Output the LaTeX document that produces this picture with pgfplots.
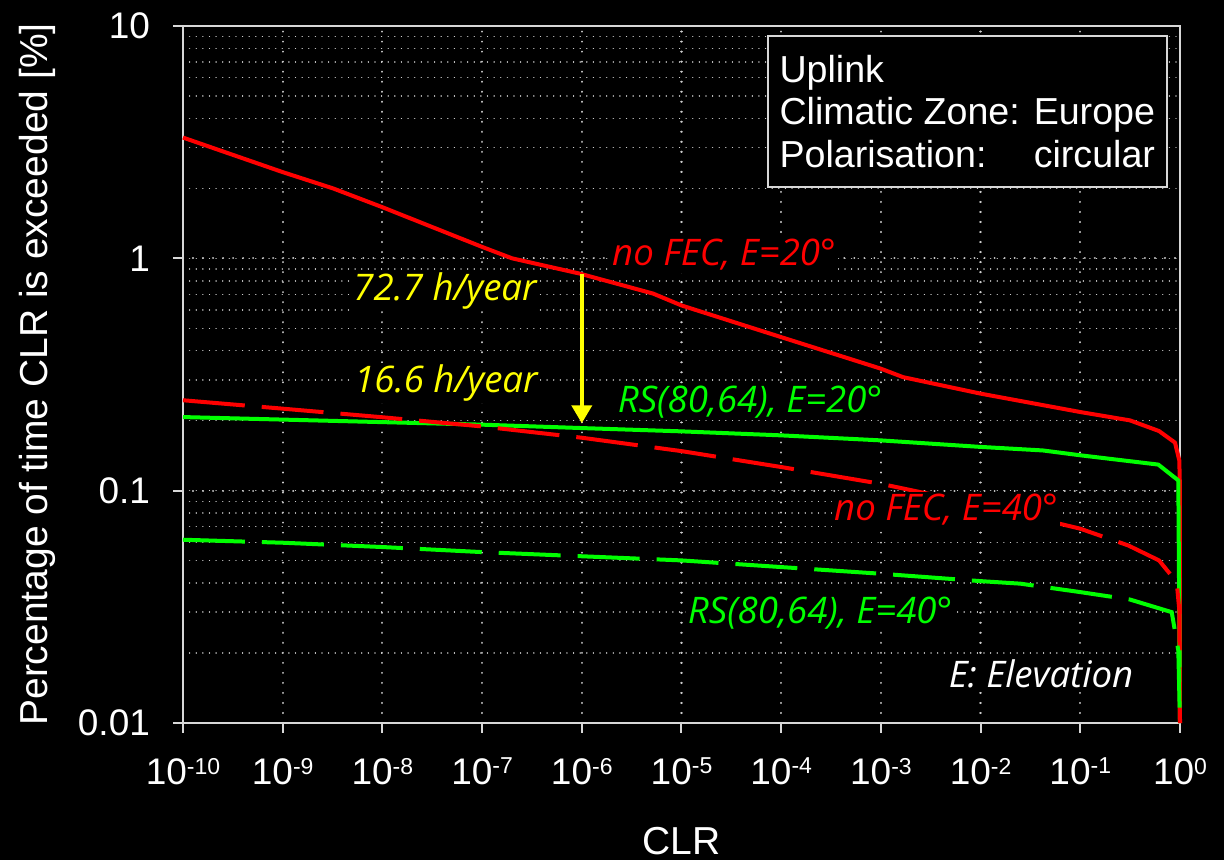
\documentclass[border=0pt]{standalone}
\usepackage{pgfplots}
\pgfplotsset{compat=1.18}
\usepackage{fontspec}
\setmainfont{Liberation Sans}
\newfontfamily\annfont{Open Sans}
\usetikzlibrary{backgrounds,arrows.meta}
\definecolor{myred}{RGB}{255,0,0}
\definecolor{mygreen}{RGB}{0,255,0}
\definecolor{myyellow}{RGB}{255,255,0}
\definecolor{gridgray}{RGB}{205,205,205}
\definecolor{axgray}{RGB}{215,215,215}
\newcommand\tp[1]{10\raisebox{0.28em}{\fontsize{11.5}{12}\selectfont #1}}
\newlength\boxw
\settowidth{\boxw}{\fontsize{18.8}{21.25}\selectfont Climatic Zone: Europe}
\begin{document}
\begin{tikzpicture}
\begin{axis}[
  xmode=log, ymode=log,
  scale only axis, width=498.5pt, height=348.5pt,
  xmin=1e-10, xmax=1, ymin=0.01, ymax=10,
  clip=false,
  axis line style={draw=axgray, line width=1pt},
  every tick/.style={draw=axgray, line width=1pt},
  tick align=outside, tick pos=left,
  major tick length=5pt, minor tick length=0pt,
  xminorticks=false,
  xmajorgrids=true, ymajorgrids=true, yminorgrids=true,
  major grid style={draw=gridgray, line width=1.1pt, line cap=round, dash pattern=on 0.01pt off 5pt},
  minor grid style={draw=gridgray, line width=0.7pt, line cap=round, dash pattern=on 0.01pt off 3.3pt},
  xtick={1e-10,1e-9,1e-8,1e-7,1e-6,1e-5,1e-4,1e-3,1e-2,1e-1,1},
  xticklabels={\tp{-10},\tp{-9},\tp{-8},\tp{-7},\tp{-6},\tp{-5},\tp{-4},\tp{-3},\tp{-2},\tp{-1},\tp{0}},
  ytick={0.01,0.1,1,10},
  yticklabels={0.01,0.1,1,10},
  tick label style={font=\fontsize{18.5}{20}\selectfont, text=white},
  xticklabel style={yshift=-9pt},
  yticklabel style={xshift=-8pt},
  xlabel={CLR},
  ylabel={Percentage of time CLR is exceeded [\%]},
  label style={font=\fontsize{19.5}{22}\selectfont, text=white},
  xlabel style={at={(axis description cs:0.5,0)}, anchor=center, yshift=-59pt},
  ylabel style={at={(axis description cs:-0.1464,0.5)}, anchor=center},
]
% no FEC, E=20 (solid red)
\addplot[myred, line width=2pt, line join=round] coordinates {
(1e-10,3.31) (1e-9,2.35) (3.2e-9,2.0) (1e-8,1.66) (1e-7,1.12) (2e-7,1.0)
(9.6e-7,0.859) (5.2e-6,0.705) (1e-5,0.627) (1e-4,0.458) (1e-3,0.335)
(1.67e-3,0.308) (1e-2,0.2616) (0.1,0.218) (0.315,0.2007) (0.616,0.1806)
(0.891,0.161) (0.984,0.135) (0.995,0.11) (1,0.01)};
% RS(80,64), E=20 (solid green)
\addplot[mygreen, line width=2pt, line join=round] coordinates {
(1e-10,0.2074) (1e-7,0.1924) (1e-6,0.186) (1e-5,0.18) (1e-4,0.173)
(1e-3,0.1646) (1e-2,0.1543) (0.042,0.149) (0.1,0.142) (0.606,0.1295)
(0.962,0.1107) (1,0.01)};
% no FEC, E=40 (dashed red)
\addplot[myred, line width=2pt, dash pattern=on 31pt off 8.5pt] coordinates {
(1e-10,0.245) (1e-9,0.2254) (1e-8,0.207) (1e-7,0.189) (1e-6,0.169)
(1e-5,0.148) (1e-4,0.1264) (1e-3,0.107) (1e-2,0.087) (0.1,0.0686)
(0.303,0.0581) (0.616,0.0501) (0.927,0.0404) (0.984,0.0306) (1,0.01)};
% RS(80,64), E=40 (dashed green)
\addplot[mygreen, line width=2pt, dash pattern=on 31pt off 8.5pt] coordinates {
(1e-10,0.0615) (1e-9,0.0597) (1e-8,0.0572) (1e-7,0.0544) (1e-6,0.0522)
(1e-5,0.0501) (1e-4,0.0469) (1e-3,0.0439) (1e-2,0.0408) (0.025,0.0398)
(0.1,0.0366) (0.315,0.034) (0.826,0.030) (0.962,0.0205) (1,0.01)};
% arrow
\draw[myyellow, line width=2pt, -{Triangle[length=9pt,width=10pt]}] (axis cs:1e-6,0.86) -- (axis cs:1e-6,0.195);
% labels
\tikzset{ann/.style={font=\annfont\itshape\fontsize{18.3}{21}\selectfont, fill=black, inner sep=1pt}}
\node[ann, text=myred] at (rel axis cs:0.5426,0.6714) {no FEC, E=20°};
\node[ann, text=myyellow] at (rel axis cs:0.2628,0.6198) {72.7 h/year};
\node[ann, text=myyellow] at (rel axis cs:0.2638,0.4878) {16.6 h/year};
\node[ann, text=mygreen] at (rel axis cs:0.5687,0.4606) {RS(80,64), E=20°};
\node[ann, text=myred] at (rel axis cs:0.7653,0.3056) {no FEC, E=40°};
\node[ann, text=mygreen] at (rel axis cs:0.6390,0.1578) {RS(80,64), E=40°};
\node[ann, text=white] at (rel axis cs:0.8606,0.0703) {E: Elevation};
\node[draw=axgray, line width=1pt, fill=black, text=white, anchor=north east,
  inner xsep=6pt, inner ysep=9.5pt, align=left,
  font=\fontsize{18.8}{21.25}\selectfont] at (rel axis cs:0.988,0.9871)
  {Uplink\\Climatic Zone: Europe\\\hbox to \boxw{Polarisation:\hfill circular}};
\end{axis}
\path (current axis.south west) ++(-91.5pt,-68.5pt) coordinate (bl);
\path (current axis.north east) ++(22pt,13pt) coordinate (tr);
\pgfresetboundingbox
\begin{scope}[on background layer]
\fill[black] (bl) rectangle (tr);
\end{scope}
\end{tikzpicture}
\end{document}
